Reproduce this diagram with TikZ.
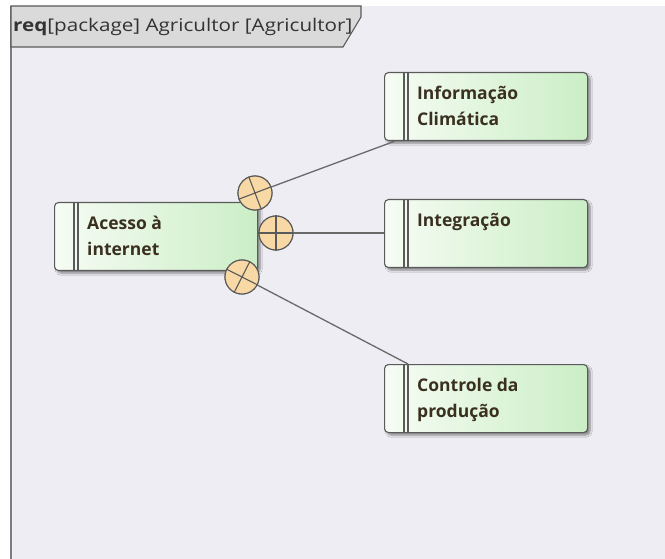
\documentclass[tikz,border=0pt]{standalone}
\usepackage{fontspec}
\usepackage{graphicx}
\setmainfont{Open Sans}
\usetikzlibrary{calc,shadows.blur}
\definecolor{framebg}{HTML}{EDEDF3}
\definecolor{tabfill}{HTML}{DADADA}
\definecolor{edge}{HTML}{5A5A5A}
\definecolor{reqleft}{HTML}{F6FCF4}
\definecolor{reqright}{HTML}{CBEEC6}
\definecolor{reqtext}{HTML}{3A3020}
\definecolor{circfill}{HTML}{F8D9A6}
\definecolor{wire}{HTML}{6A6A6A}
\tikzset{
  reqbox/.style={draw=edge, line width=1.1pt, rounded corners=4pt,
    left color=reqleft, right color=reqright,
    minimum width=203pt, minimum height=68pt, inner sep=0pt,
    blur shadow={shadow xshift=2.5pt, shadow yshift=-2.5pt, shadow blur steps=6, shadow opacity=45}},
  reqlabel/.style={anchor=north west, align=left, text=reqtext,
    font=\fontsize{17.5}{26}\selectfont\bfseries, inner sep=0pt},
  nest/.style={circle, draw=edge, line width=1.1pt, fill=circfill,
    minimum size=34pt, inner sep=0pt},
  crossline/.style={draw=edge, line width=1.1pt},
  conn/.style={draw=wire, line width=1.3pt}
}
% requirement box: name, top-left corner, label
\newcommand{\reqnode}[3]{%
  \node[reqbox, anchor=north west] (#1) at (#2) {};
  \draw[edge, line width=1.1pt] ($(#1.north west)+(20,0)$) -- ($(#1.south west)+(20,0)$)
                                ($(#1.north west)+(24,0)$) -- ($(#1.south west)+(24,0)$);
  \node[reqlabel] (#1-t) at ($(#1.north west)+(33,14)$) {#3};
}
\begin{document}
\begin{tikzpicture}[x=1pt,y=-1pt]
\useasboundingbox (0,0) rectangle (665,559);
\fill[white] (0,0) rectangle (665,559);
% package frame
\fill[framebg] (11,6) rectangle (665,559);
\draw[edge!80, line width=1.6pt] (11,6) -- (11,559);
\draw[framebg!70!white, line width=1pt] (12.8,47) -- (12.8,559);
\filldraw[fill=tabfill, draw=edge, line width=1.1pt]
  (11,6) -- (361,6) -- (361,17) -- (343,47) -- (11,47) -- cycle;
\node[anchor=base west, inner sep=0pt, text=black!80, font=\fontsize{17.5}{20}\selectfont]
  (title) at (13,32) {\scalebox{1.18}[1]{\textbf{req}[package] Agricultor [Agricultor]}};

% requirements
\reqnode{info}{384,72}{Informação\\Climática}
\reqnode{integ}{384,199}{Integração}
\reqnode{ctrl}{384,364}{Controle da\\produção}
\reqnode{acesso}{54,202}{Acesso à\\internet}

% containment anchors
\node[nest] (c1) at (255,193) {};
\node[nest] (c2) at (276,233) {};
\node[nest] (c3) at (242,277) {};
\coordinate (e1) at ($(info.south west)+(11,0)$);
\coordinate (e3) at ($(ctrl.north west)+(24,0)$);

% connectors, then the anchors on top
\draw[conn] (c1) -- (e1);
\draw[conn] (c2) -- (integ.west |- c2);
\draw[conn] (c3) -- (e3);

\node[nest] at (c1) {};
\node[nest] at (c2) {};
\node[nest] at (c3) {};
\draw[crossline] (c1.21) -- (c1.201) (c1.111) -- (c1.291);
\draw[crossline] (c2.0) -- (c2.180) (c2.90) -- (c2.270);
\draw[crossline] (c3.-27) -- (c3.153) (c3.63) -- (c3.243);
\end{tikzpicture}
\end{document}
